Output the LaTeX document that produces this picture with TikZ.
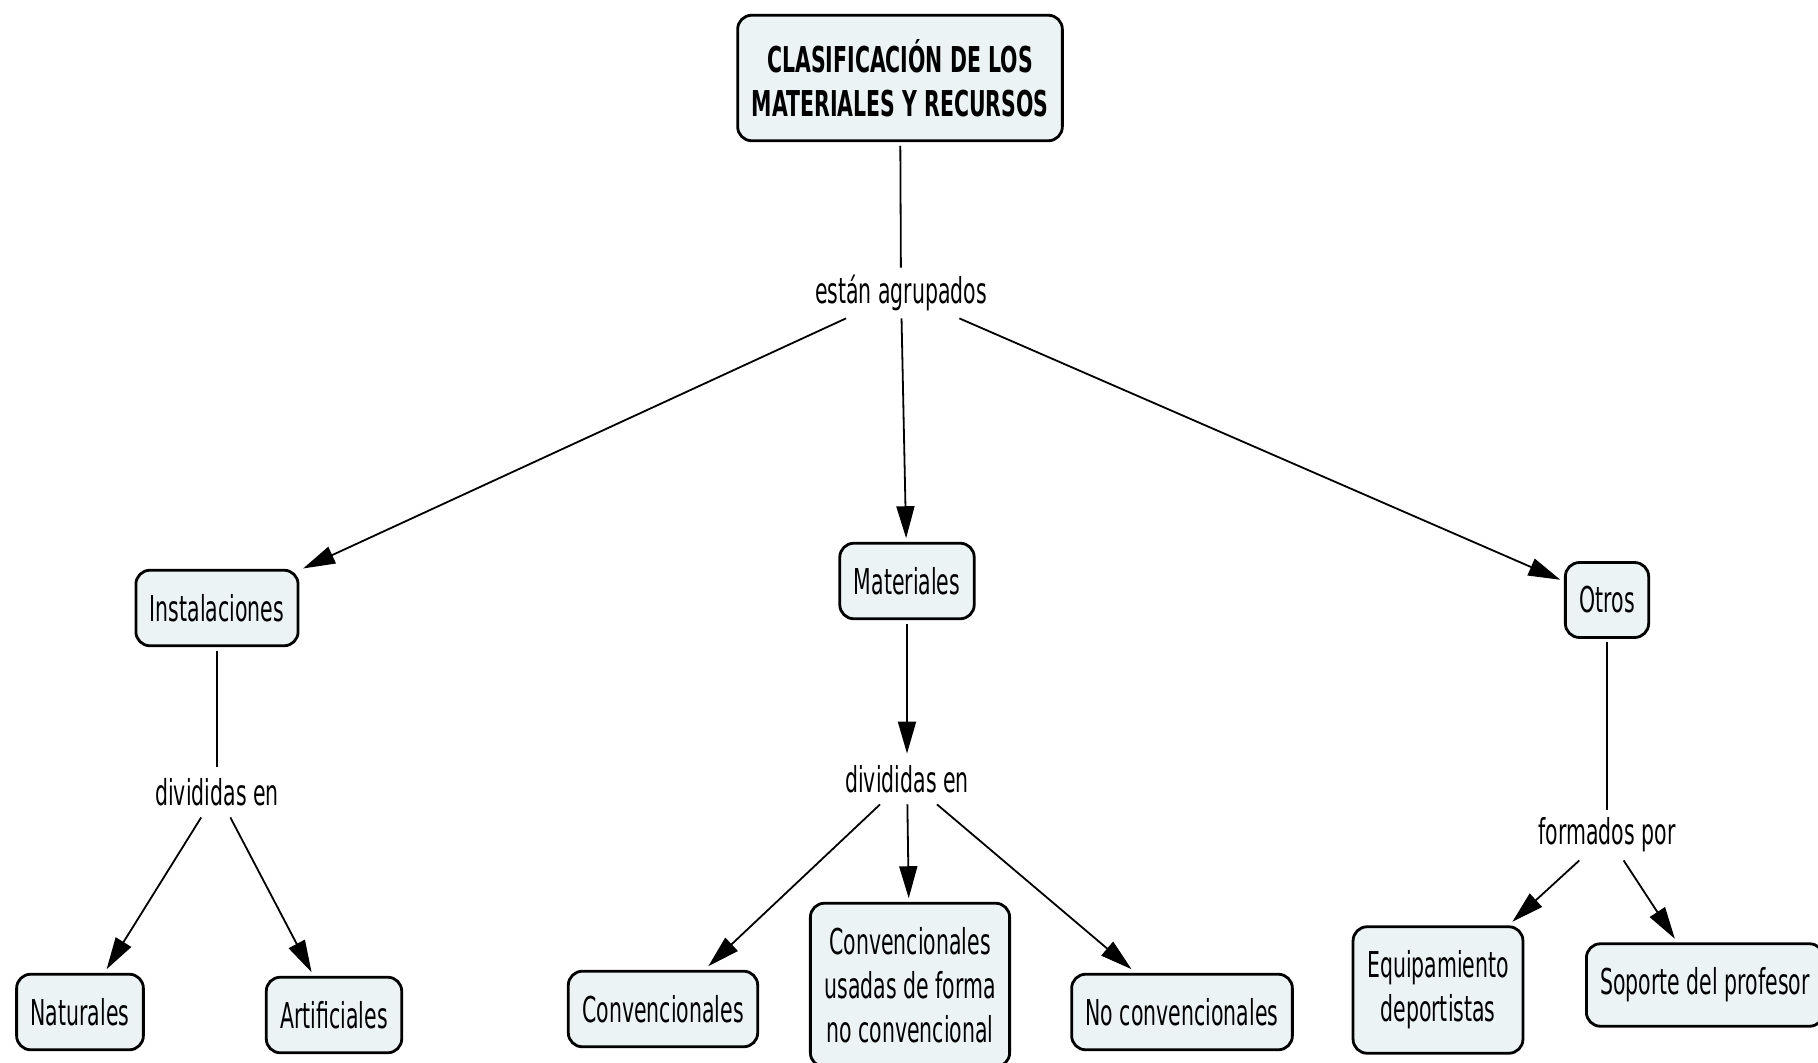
\documentclass[tikz,border=0pt]{standalone}
\usepackage{fontspec}
\setmainfont{DejaVu Sans}[FakeStretch=0.575]
\usetikzlibrary{arrows.meta}
\definecolor{conceptfill}{RGB}{235,243,245}

\tikzset{every picture/.style={font=\fontsize{17.8}{22}\selectfont}}

\begin{document}
\begin{tikzpicture}[x=0.5pt, y=-0.5pt,
		concept/.style={rectangle, rounded corners=7pt, draw, line width=1.4pt, fill=conceptfill, inner xsep=7pt, inner ysep=12pt, outer sep=2.5pt, align=center},
		linkword/.style={rectangle, inner sep=0pt, minimum height=25pt},
		link/.style={line width=0.9pt},
		arrowlink/.style={link, -{Triangle[length=16pt,width=9pt]}}]
		\useasboundingbox (0,0) rectangle (1818,1063);
		
		% Draw the concepts
		\node[concept, font=\fontsize{17.8}{22}\selectfont\bfseries] (title) at (900,78) {CLASIFICACIÓN DE LOS\\MATERIALES Y RECURSOS};
		\node[concept] (facilities) at (217,608) {Instalaciones};
		\node[concept] (materials) at (907,581) {Materiales};
		\node[concept] (others) at (1607,600) {Otros};
		\node[concept] (natural) at (80,1012) {Naturales};
		\node[concept] (artificial) at (334,1015) {Artificiales};
		\node[concept] (conventional) at (663,1009) {Convencionales};
		\node[concept] (reused) at (910,985) {Convencionales\\usadas de forma\\no convencional};
		\node[concept] (unconventional) at (1182,1012) {No convencionales};
		\node[concept] (equipment) at (1438,990) {Equipamiento\\deportistas};
		\node[concept] (support) at (1705,985) {Soporte del profesor};
		
		% Draw the linking words
		\node[linkword] (grouped) at (901,293) {están agrupados};
		\node[linkword] (dividedA) at (217,792) {divididas en};
		\node[linkword] (dividedB) at (907,779) {divididas en};
		\node[linkword] (formed) at (1607,835) {formados por};
		
		% Draw the connectors
		\draw[link] (title) -- (grouped);
		\draw[arrowlink] (grouped) -- (facilities);
		\draw[arrowlink] (grouped) -- (materials);
		\draw[arrowlink] (grouped) -- (others);
		
		\draw[link] (facilities) -- (dividedA);
		\draw[arrowlink] (dividedA) -- (natural);
		\draw[arrowlink] (dividedA) -- (artificial);
		
		\draw[arrowlink] (materials) -- (dividedB);
		\draw[arrowlink] (dividedB) -- (conventional);
		\draw[arrowlink] (dividedB) -- (reused);
		\draw[arrowlink] (dividedB) -- (unconventional);
		
		\draw[link] (others) -- (formed);
		\draw[arrowlink] (formed) -- (equipment);
		\draw[arrowlink] (formed) -- (support);
	\end{tikzpicture}
\end{document}
